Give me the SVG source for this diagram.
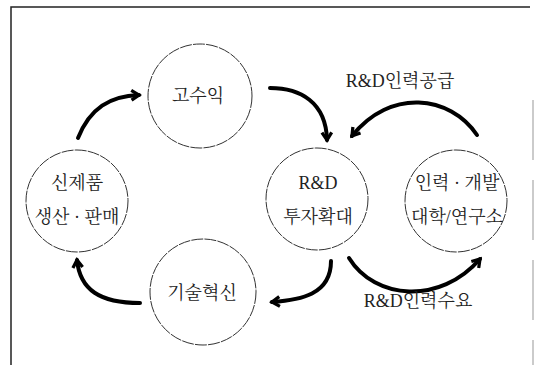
<svg xmlns="http://www.w3.org/2000/svg" width="542" height="365" viewBox="0 0 542 365">
<style>
.frame{stroke:#222;stroke-width:1.5;fill:none}
.node{fill:none;stroke:#333;stroke-width:1;stroke-dasharray:12 1.2}
.t{font-family:"Liberation Serif","Noto Serif CJK KR","Noto Sans CJK KR",serif;font-size:18px;fill:#222;text-anchor:middle}
.arrow{fill:none;stroke:#000;stroke-width:4;stroke-linecap:round;marker-end:url(#ah)}
</style>
<defs>
<marker id="ah" markerUnits="userSpaceOnUse" viewBox="0 0 12 12" markerWidth="13" markerHeight="13" refX="9" refY="6" orient="auto">
<path d="M2,1.5 L9,6 L2,10.5" fill="none" stroke="#000" stroke-width="3" stroke-linejoin="miter"/>
</marker>
</defs>
<rect x="0" y="0" width="542" height="365" fill="#fff"/>
<g id="frame">
<path class="frame" d="M11,365 V7 H530"/>
<path d="M533,100 V365" stroke="#bbb" stroke-width="1.5" stroke-dasharray="60 20"/>
</g>
<g id="node-gosuik">
<circle class="node" cx="200" cy="96" r="52"/>
<text class="t" x="198" y="102">고수익</text>
</g>
<g id="node-sinjepum">
<circle class="node" cx="77" cy="201" r="51"/>
<text class="t" x="77" y="189">신제품</text>
<text class="t" x="77" y="223">생산 · 판매</text>
</g>
<g id="node-rnd">
<circle class="node" cx="317" cy="199" r="51"/>
<text class="t" x="318" y="189">R&amp;D</text>
<text class="t" x="318" y="223">투자확대</text>
</g>
<g id="node-inryeok">
<circle class="node" cx="456" cy="201" r="51"/>
<text class="t" x="457" y="189">인력 · 개발</text>
<text class="t" x="457" y="223">대학/연구소</text>
</g>
<g id="node-gisul">
<circle class="node" cx="203" cy="292" r="53"/>
<text class="t" x="202" y="299">기술혁신</text>
</g>
<g id="connectors">
<path class="arrow" d="M78,138 C90,108 110,96 139,95"/>
<path class="arrow" d="M270,88 C300,88 326,102 327,140"/>
<path class="arrow" d="M477,135 C450,95 390,88 352,136"/>
<path class="arrow" d="M140,303 C100,303 80,290 77,260"/>
<path class="arrow" d="M331,261 C331,295 300,300 272,302"/>
<path class="arrow" d="M349,258 C375,300 440,305 480,259"/>
<text class="t" x="400" y="87">R&amp;D인력공급</text>
<text class="t" x="418" y="307">R&amp;D인력수요</text>
</g>
</svg>
